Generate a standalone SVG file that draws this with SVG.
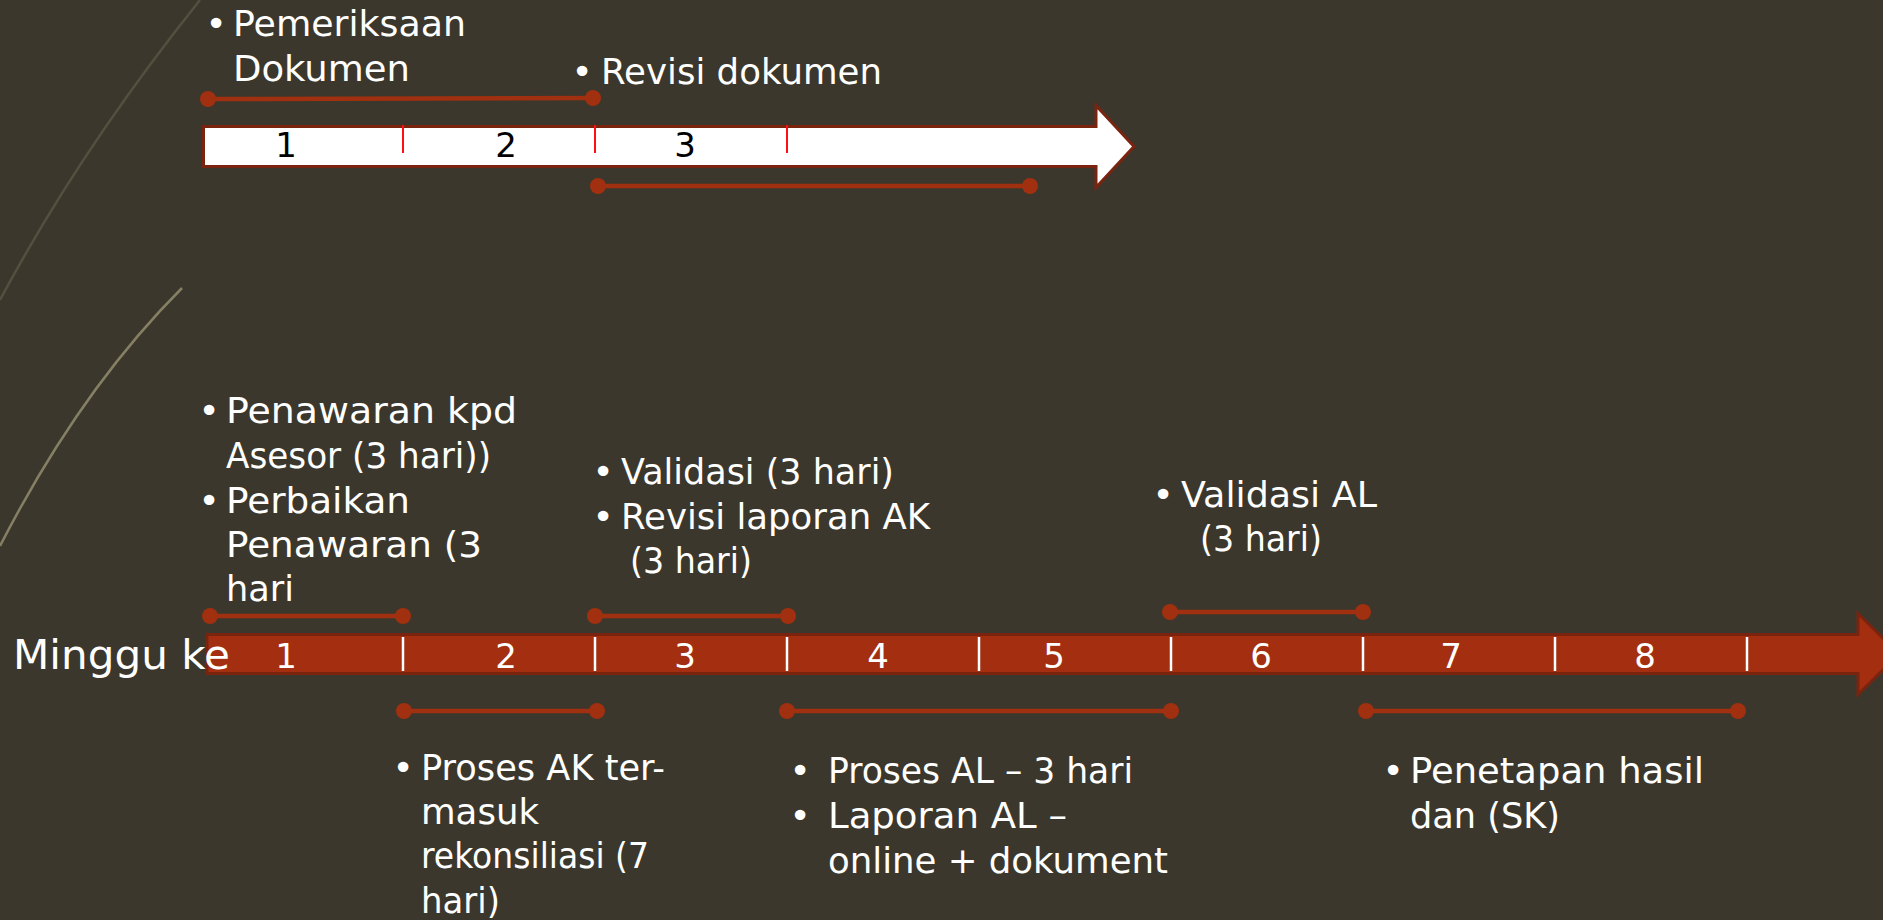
<svg xmlns="http://www.w3.org/2000/svg" width="1883" height="920" viewBox="0 0 1883 920">
  <defs>
    <style>
      .t { font-family: "DejaVu Sans", "Liberation Sans", sans-serif; font-size: 36px; fill: #ffffff; }
      .b { font-family: "DejaVu Sans", "Liberation Sans", sans-serif; font-size: 36px; fill: #ffffff; text-anchor: middle; }
      .dw { font-family: "DejaVu Sans", "Liberation Sans", sans-serif; font-size: 34px; fill: #ffffff; text-anchor: middle; }
      .db { font-family: "DejaVu Sans", "Liberation Sans", sans-serif; font-size: 34px; fill: #000000; text-anchor: middle; }
      .rng line { stroke: #a0300f; stroke-width: 4.5; }
      .rng circle { fill: #a0300f; }
      .wt { stroke: #ffffff; stroke-width: 2.5; }
      .rt { stroke: #ff1010; stroke-width: 2; }
    </style>
  </defs>
  <rect x="0" y="0" width="1883" height="920" fill="#3b372c"/>
  <g id="decor" fill="none">
    <path d="M200,0 Q80,150 0,300" stroke="#54503f" stroke-width="2.5"/>
    <path d="M182,288 Q80,390 0,546" stroke="#857f64" stroke-width="2.5"/>
  </g>

  <g id="top-arrow">
    <path d="M203.5,126.5 H1096 V105.5 L1134,146.5 L1096,187.5 V166.5 H203.5 Z" fill="#ffffff" stroke="#7a2410" stroke-width="3"/>
    <line class="rt" x1="403" y1="125" x2="403" y2="153"/>
    <line class="rt" x1="595" y1="125" x2="595" y2="153"/>
    <line class="rt" x1="787" y1="125" x2="787" y2="153"/>
    <text class="db" x="286" y="157">1</text>
    <text class="db" x="506" y="157">2</text>
    <text class="db" x="685" y="157">3</text>
  </g>

  <g id="main-arrow">
    <path d="M207,634.5 H1858 V613.5 L1899,654 L1858,694.5 V673.5 H207 Z" fill="#a32f10" stroke="#7a2410" stroke-width="3"/>
    <line class="wt" x1="403" y1="637" x2="403" y2="671"/>
    <line class="wt" x1="595" y1="637" x2="595" y2="671"/>
    <line class="wt" x1="787" y1="637" x2="787" y2="671"/>
    <line class="wt" x1="979" y1="637" x2="979" y2="671"/>
    <line class="wt" x1="1171" y1="637" x2="1171" y2="671"/>
    <line class="wt" x1="1363" y1="637" x2="1363" y2="671"/>
    <line class="wt" x1="1555" y1="637" x2="1555" y2="671"/>
    <line class="wt" x1="1747" y1="637" x2="1747" y2="671"/>
    <text class="dw" x="286" y="668">1</text>
    <text class="dw" x="506" y="668">2</text>
    <text class="dw" x="685" y="668">3</text>
    <text class="dw" x="878" y="668">4</text>
    <text class="dw" x="1054" y="668">5</text>
    <text class="dw" x="1261" y="668">6</text>
    <text class="dw" x="1451" y="668">7</text>
    <text class="dw" x="1645" y="668">8</text>
  </g>

  <g id="label-minggu">
    <text class="t" x="13" y="669" style="font-size:41px" textLength="217" lengthAdjust="spacingAndGlyphs">Minggu ke</text>
  </g>

  <g id="connectors" class="rng">
    <line x1="208" y1="99" x2="593" y2="98"/><circle cx="208" cy="99" r="8"/><circle cx="593" cy="98" r="8"/>
    <line x1="598" y1="186" x2="1030" y2="186"/><circle cx="598" cy="186" r="8"/><circle cx="1030" cy="186" r="8"/>
    <line x1="210" y1="616" x2="403" y2="616"/><circle cx="210" cy="616" r="8"/><circle cx="403" cy="616" r="8"/>
    <line x1="595" y1="616" x2="788" y2="616"/><circle cx="595" cy="616" r="8"/><circle cx="788" cy="616" r="8"/>
    <line x1="1170" y1="612" x2="1363" y2="612"/><circle cx="1170" cy="612" r="8"/><circle cx="1363" cy="612" r="8"/>
    <line x1="404" y1="711" x2="597" y2="711"/><circle cx="404" cy="711" r="8"/><circle cx="597" cy="711" r="8"/>
    <line x1="787" y1="711" x2="1171" y2="711"/><circle cx="787" cy="711" r="8"/><circle cx="1171" cy="711" r="8"/>
    <line x1="1366" y1="711" x2="1738" y2="711"/><circle cx="1366" cy="711" r="8"/><circle cx="1738" cy="711" r="8"/>
  </g>

  <g id="note-pemeriksaan">
    <text class="b" x="216" y="36">•</text>
    <text class="t" x="233" y="36" textLength="233" lengthAdjust="spacingAndGlyphs">Pemeriksaan</text>
    <text class="t" x="233" y="81" textLength="177" lengthAdjust="spacingAndGlyphs">Dokumen</text>
  </g>
  <g id="note-revisi">
    <text class="b" x="582" y="84">•</text>
    <text class="t" x="601" y="84" textLength="281" lengthAdjust="spacingAndGlyphs">Revisi dokumen</text>
  </g>

  <g id="note-penawaran">
    <text class="b" x="209" y="423">•</text>
    <text class="t" x="226" y="423" textLength="291" lengthAdjust="spacingAndGlyphs">Penawaran kpd</text>
    <text class="t" x="226" y="468" textLength="265" lengthAdjust="spacingAndGlyphs">Asesor (3 hari))</text>
    <text class="b" x="209" y="513">•</text>
    <text class="t" x="226" y="513" textLength="184" lengthAdjust="spacingAndGlyphs">Perbaikan</text>
    <text class="t" x="226" y="557" textLength="256" lengthAdjust="spacingAndGlyphs">Penawaran (3</text>
    <text class="t" x="226" y="601" textLength="68" lengthAdjust="spacingAndGlyphs">hari</text>
  </g>

  <g id="note-validasi">
    <text class="b" x="603" y="484">•</text>
    <text class="t" x="621" y="484" textLength="273" lengthAdjust="spacingAndGlyphs">Validasi (3 hari)</text>
    <text class="b" x="603" y="529">•</text>
    <text class="t" x="621" y="529" textLength="309" lengthAdjust="spacingAndGlyphs">Revisi laporan AK</text>
    <text class="t" x="630" y="573" textLength="122" lengthAdjust="spacingAndGlyphs">(3 hari)</text>
  </g>

  <g id="note-validasi-al">
    <text class="b" x="1163" y="507">•</text>
    <text class="t" x="1181" y="507" textLength="196" lengthAdjust="spacingAndGlyphs">Validasi AL</text>
    <text class="t" x="1200" y="551" textLength="122" lengthAdjust="spacingAndGlyphs">(3 hari)</text>
  </g>

  <g id="note-proses-ak">
    <text class="b" x="403" y="780">•</text>
    <text class="t" x="421" y="780" textLength="244" lengthAdjust="spacingAndGlyphs">Proses AK ter-</text>
    <text class="t" x="421" y="824" textLength="118" lengthAdjust="spacingAndGlyphs">masuk</text>
    <text class="t" x="421" y="868" textLength="228" lengthAdjust="spacingAndGlyphs">rekonsiliasi (7</text>
    <text class="t" x="421" y="913" textLength="79" lengthAdjust="spacingAndGlyphs">hari)</text>
  </g>

  <g id="note-proses-al">
    <text class="b" x="800" y="783">•</text>
    <text class="t" x="828" y="783" textLength="305" lengthAdjust="spacingAndGlyphs">Proses AL – 3 hari</text>
    <text class="b" x="800" y="828">•</text>
    <text class="t" x="828" y="828" textLength="239" lengthAdjust="spacingAndGlyphs">Laporan AL –</text>
    <text class="t" x="828" y="873" textLength="340" lengthAdjust="spacingAndGlyphs">online + dokument</text>
  </g>

  <g id="note-penetapan">
    <text class="b" x="1393" y="783">•</text>
    <text class="t" x="1410" y="783" textLength="294" lengthAdjust="spacingAndGlyphs">Penetapan hasil</text>
    <text class="t" x="1410" y="828" textLength="150" lengthAdjust="spacingAndGlyphs">dan (SK)</text>
  </g>
</svg>
